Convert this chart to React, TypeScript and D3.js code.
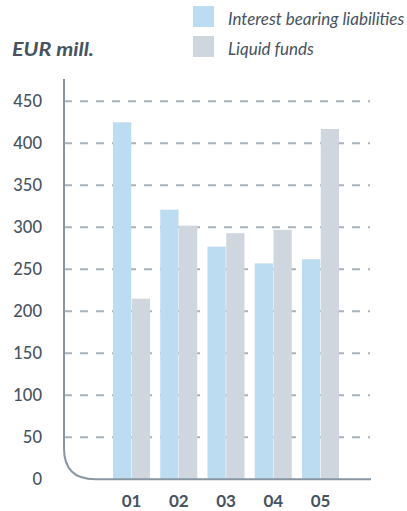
import React from "react";
import * as d3 from "d3";

const categories = ["01", "02", "03", "04", "05"];
const seriesNames = ["Interest bearing liabilities", "Liquid funds"];
const interestBearing = [425, 321, 277, 257, 262];
const liquidFunds = [215, 302, 293, 297, 417];
const yTicks = [0, 50, 100, 150, 200, 250, 300, 350, 400, 450];

const W = 407;
const H = 511;
const colors = ["#bcdcf1", "#cfd6dd"];
const textColor = "#46535e";
const axisColor = "#8796a2";
const gridColor = "#a9b3bb";
const font = "Lato, 'Open Sans', sans-serif";

export default function App() {
  const y = d3.scaleLinear().domain([0, 450]).range([479.3, 101.3]);
  const xc = d3.scalePoint<string>().domain(categories).range([131.5, 320.5]);
  const xs = d3.scaleBand<string>().domain(seriesNames).range([-18.5, 18.5]).paddingInner(1 / 37);
  const seriesValues = [interestBearing, liquidFunds];

  const axisX = 64;
  const axisRight = 371;
  const r = 31;
  const y0 = y(0);
  const axisPath = d3.path();
  axisPath.moveTo(axisX, 79);
  axisPath.lineTo(axisX, y0 - r);
  axisPath.quadraticCurveTo(axisX, y0, axisX + r, y0);
  axisPath.lineTo(axisRight, y0);

  return (
    <svg width={W} height={H} style={{ position: "absolute", left: 0, top: 0, display: "block" }}>
      <rect width={W} height={H} fill="#ffffff" />
      {/* legend */}
      {seriesNames.map((s, i) => (
        <g key={s}>
          <rect x={193} y={6 + i * 30} width={21} height={21} fill={colors[i]} />
          <text x={228} y={25 + i * 30} fontFamily={font} fontStyle="italic" fontSize={17} fill={textColor}>
            {s}
          </text>
        </g>
      ))}
      <text x={12} y={56} fontFamily={font} fontStyle="italic" fontWeight="bold" fontSize={19} fill={textColor}
        textLength={82} lengthAdjust="spacingAndGlyphs">
        EUR mill.
      </text>
      {/* gridlines */}
      {yTicks.filter((t) => t > 0).map((t) => (
        <line key={t} x1={axisX} x2={370} y1={y(t)} y2={y(t)} stroke={gridColor} strokeWidth={2} strokeDasharray="8 8" />
      ))}
      {/* y labels */}
      {yTicks.map((t) => (
        <text key={t} x={42} y={y(t)} dy="0.36em" textAnchor="end" fontFamily={font} fontSize={16.5} fontWeight={500} fill={textColor}>
          {t}
        </text>
      ))}
      {/* bars */}
      {categories.map((c, ci) => (
        <g key={c}>
          {seriesNames.map((s, si) => {
            const v = seriesValues[si][ci];
            return (
              <rect
                key={s}
                x={(xc(c) as number) + (xs(s) as number)}
                y={y(v)}
                width={xs.bandwidth()}
                height={y0 - y(v)}
                fill={colors[si]}
              />
            );
          })}
          <text x={xc(c)} y={507} textAnchor="middle" fontFamily={font} fontWeight="bold" fontSize={17} fill={textColor}>
            {c}
          </text>
        </g>
      ))}
      <path d={axisPath.toString()} fill="none" stroke={axisColor} strokeWidth={2} />
    </svg>
  );
}
